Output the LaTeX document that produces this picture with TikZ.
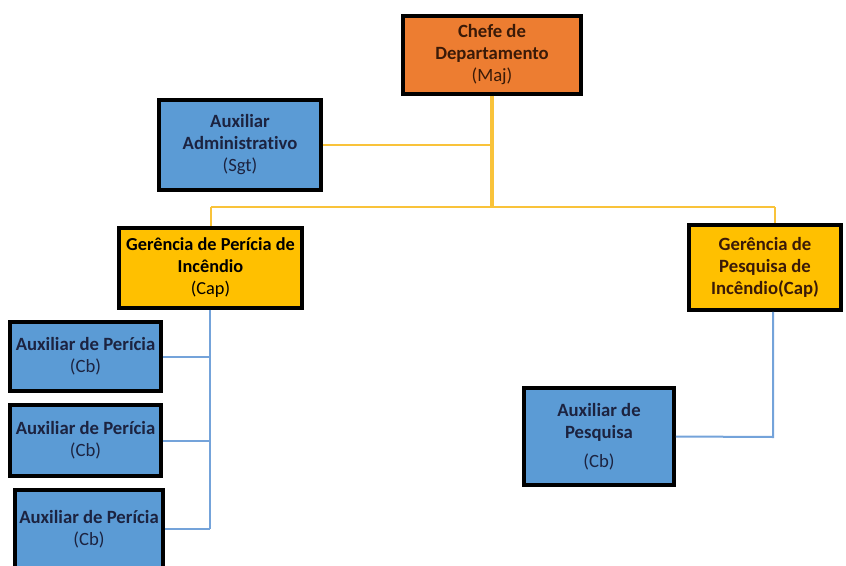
\documentclass[tikz,border=0pt]{standalone}
\usepackage{fontspec}
\setmainfont{Carlito}[Ligatures=NoCommon]
\definecolor{chefeorange}{HTML}{ED7D31}
\definecolor{gerencia}{HTML}{FFC000}
\definecolor{auxblue}{HTML}{5B9BD5}
\definecolor{linkyellow}{HTML}{F9C33A}
\definecolor{linkblue}{HTML}{74A3DA}
\definecolor{txtnavy}{HTML}{1C2340}
\definecolor{txtbrown}{HTML}{3A1A08}
\begin{document}
\begin{tikzpicture}[x=1pt, y=-1pt,
    box/.style={draw=black, line width=3.5pt, rectangle, align=center, inner sep=0pt,
                font=\bfseries\fontsize{18.7}{22}\selectfont},
    ylink/.style={draw=linkyellow, line width=2pt},
    blink/.style={draw=linkblue, line width=2pt}]
    \useasboundingbox (0,0) rectangle (846,565);
    % chefe e auxiliar administrativo
    \node[box, fill=chefeorange, text=txtbrown, minimum width=178pt, minimum height=78pt] (chefe) at (492,55) {Chefe de\\Departamento\\\mdseries(Maj)};
    \node[box, fill=auxblue, text=txtnavy, minimum width=162pt, minimum height=90pt] (admin) at (240,145) {Auxiliar\\Administrativo\\\mdseries(Sgt)};
    % gerencias
    \node[box, fill=gerencia, text=black, minimum width=183pt, minimum height=80pt, font=\bfseries\fontsize{18.3}{22}\selectfont] (gpericia) at (210.5,268) {Gerência de Perícia de\\Incêndio\\\mdseries(Cap)};
    \node[box, fill=gerencia, text=txtbrown, minimum width=152pt, minimum height=85pt] (gpesquisa) at (765,267.5) {Gerência de\\Pesquisa de\\Incêndio(Cap)};
    % auxiliares
    \node[box, fill=auxblue, text=txtnavy, minimum width=151pt, minimum height=69pt] (ap1) at (85.5,356.5) {Auxiliar de Perícia\\\mdseries(Cb)};
    \node[box, fill=auxblue, text=txtnavy, minimum width=151pt, minimum height=71pt] (ap2) at (85.5,440.5) {Auxiliar de Perícia\\\mdseries(Cb)};
    \node[box, fill=auxblue, text=txtnavy, minimum width=148pt, minimum height=78pt] (ap3) at (89,529) {Auxiliar de Perícia\\\mdseries(Cb)};
    \node[box, fill=auxblue, text=txtnavy, minimum width=150pt, minimum height=97pt] (apesq) at (599,436.5) {Auxiliar de\\Pesquisa\\[7pt]\mdseries(Cb)};
    % pontos de ligacao
    \coordinate (hub) at (492,207);
    \coordinate (lj) at (211,207);
    \coordinate (rj) at (775,207);
    \coordinate (lb) at (210,529);
    \coordinate (rb) at (773,437);
    % ligacoes amarelas
    \draw[ylink, line width=4.5pt] (chefe) -- (hub);
    \draw[ylink] (admin.east) -- (admin.east -| hub);
    \draw[ylink] (lj) -- (rj);
    \draw[ylink] (lj) -- (lj |- gpericia.north);
    \draw[ylink] (rj) -- (rj |- gpesquisa.north);
    % ligacoes azuis
    \draw[blink] (lb |- gpericia.south) -- (lb);
    \foreach \i in {1,2,3} {
        \draw[blink] (ap\i.east) -- (ap\i.east -| lb);
    }
    \draw[blink] (rb |- gpesquisa.south) -- (rb) -- (apesq.east);
\end{tikzpicture}
\end{document}
